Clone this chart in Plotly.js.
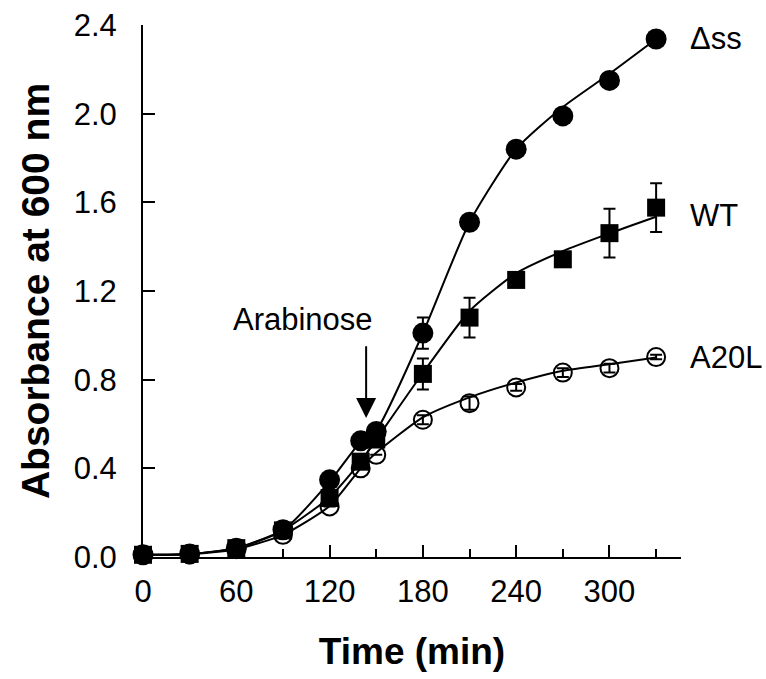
<!DOCTYPE html>
<html>
<head>
<meta charset="utf-8">
<script src="https://cdn.plot.ly/plotly-3.0.1.min.js"></script>
<style>html,body{margin:0;padding:0;background:#fff;}#chart{width:766px;height:679px;}</style>
</head>
<body>
<div id="chart"></div>
<script>
// Sampling times (min)
var times = [0, 30, 60, 90, 120, 140, 150, 180, 210, 240, 270, 300, 330];

// Measured points
var dssValues  = [0.01, 0.014, 0.04, 0.123, 0.348, 0.524, 0.566, 1.01, 1.51, 1.84, 1.99, 2.15, 2.337];
var dssErrors  = [0, 0, 0, 0, 0, 0, 0, 0.07, 0, 0, 0, 0, 0];
var wtValues   = [0.01, 0.014, 0.04, 0.12, 0.266, 0.43, 0.53, 0.826, 1.08, 1.25, 1.343, 1.461, 1.576];
var wtErrors   = [0, 0, 0, 0, 0, 0, 0, 0.07, 0.09, 0.02, 0.02, 0.11, 0.11];
var a20lValues = [0.01, 0.012, 0.035, 0.10, 0.228, 0.40, 0.461, 0.619, 0.694, 0.765, 0.832, 0.852, 0.902];
var a20lErrors = [0, 0, 0, 0, 0, 0, 0, 0.02, 0.03, 0.015, 0.02, 0.02, 0.01];

// Smoothed curves as drawn
var dssCurve  = [0.01, 0.014, 0.04, 0.12, 0.34, 0.52, 0.57, 1.01, 1.51, 1.84, 2.03, 2.18, 2.337];
var wtCurve   = [0.01, 0.014, 0.04, 0.12, 0.27, 0.43, 0.53, 0.83, 1.11, 1.28, 1.38, 1.46, 1.535];
var a20lCurve = [0.01, 0.012, 0.035, 0.10, 0.23, 0.40, 0.47, 0.63, 0.72, 0.787, 0.84, 0.87, 0.90];

// Labels
var seriesNames = ["\u0394ss", "WT", "A20L"];
var xTickVals = [0, 60, 120, 180, 240, 300];
var yTickVals = [0, 0.4, 0.8, 1.2, 1.6, 2.0, 2.4];
var xTitle = "Time (min)";
var yTitle = "Absorbance at 600 nm";
var arrowLabel = "Arabinose";
var arrowTime = 143.5;

var FONT = "Liberation Sans, Arial, sans-serif";

function curve(y) {
  return {x: times, y: y, mode: 'lines', type: 'scatter', hoverinfo: 'skip',
    line: {color: 'black', width: 2, shape: 'spline', smoothing: 0.6}, cliponaxis: false, showlegend: false};
}
function pts(y, err, sym, size) {
  var m = {symbol: sym, size: size, color: 'black'};
  if (sym === 'circle-open') m.line = {width: 2, color: 'black'};
  return {x: times, y: y, mode: 'markers', type: 'scatter', marker: m, cliponaxis: false, showlegend: false,
    error_y: {type: 'data', array: err, visible: true, color: 'black', thickness: 2, width: 6}};
}

var data = [
  curve(a20lCurve), curve(wtCurve), curve(dssCurve),
  pts(a20lValues, a20lErrors, 'circle-open', 18),
  pts(wtValues, wtErrors, 'square', 18),
  pts(dssValues, dssErrors, 'circle', 21)
];

var lastIdx = times.length - 1;
var layout = {
  width: 766, height: 679,
  margin: {l: 142.5, r: 85, t: 25, b: 121.7, pad: 0},
  paper_bgcolor: 'white', plot_bgcolor: 'white',
  font: {family: FONT, size: 30, color: 'black'},
  showlegend: false,
  xaxis: {
    range: [0, 346], showgrid: false, zeroline: false, showline: true, linecolor: 'black', linewidth: 2,
    ticks: 'inside', ticklen: 12, tickwidth: 2, tickcolor: 'black',
    tickvals: xTickVals, ticktext: xTickVals.map(String),
    tickfont: {family: FONT, size: 31, color: 'black'}, ticklabelstandoff: 6,
    minor: {dtick: 30, tick0: 0, ticks: 'inside', ticklen: 8, tickwidth: 2, tickcolor: 'black', showgrid: false},
    title: {text: '<b>' + xTitle + '</b>', font: {family: FONT, size: 37, color: 'black'}, standoff: 30}
  },
  yaxis: {
    range: [0, 2.4], showgrid: false, zeroline: false, showline: true, linecolor: 'black', linewidth: 2,
    ticks: 'inside', ticklen: 12, tickwidth: 2, tickcolor: 'black',
    tickvals: yTickVals, ticktext: yTickVals.map(function (v) { return v.toFixed(1); }),
    tickfont: {family: FONT, size: 31, color: 'black'}, ticklabelstandoff: 18,
    title: {text: '<b>' + yTitle + '</b>', font: {family: FONT, size: 39, color: 'black'}, standoff: 12}
  },
  annotations: [
    {xref: 'paper', yref: 'y', x: 1.013, y: dssValues[lastIdx], text: seriesNames[0], showarrow: false,
     xanchor: 'left', yanchor: 'middle', font: {family: FONT, size: 31, color: 'black'}},
    {xref: 'paper', yref: 'y', x: 1.013, y: 1.54, text: seriesNames[1], showarrow: false,
     xanchor: 'left', yanchor: 'middle', font: {family: FONT, size: 31, color: 'black'}},
    {xref: 'paper', yref: 'y', x: 1.013, y: a20lValues[lastIdx], text: seriesNames[2], showarrow: false,
     xanchor: 'left', yanchor: 'middle', font: {family: FONT, size: 31, color: 'black'}},
    {xref: 'x', yref: 'y', x: 103, y: 1.07, text: arrowLabel, showarrow: false,
     xanchor: 'center', yanchor: 'middle', font: {family: FONT, size: 31, color: 'black'}},
    {xref: 'x', yref: 'y', x: arrowTime, y: 0.627, axref: 'x', ayref: 'y', ax: arrowTime, ay: 0.957,
     text: '', showarrow: true, arrowhead: 2, arrowsize: 2, arrowwidth: 2, arrowcolor: 'black'}
  ]
};

Plotly.newPlot('chart', data, layout, {staticPlot: true, displayModeBar: false});
</script>
</body>
</html>
